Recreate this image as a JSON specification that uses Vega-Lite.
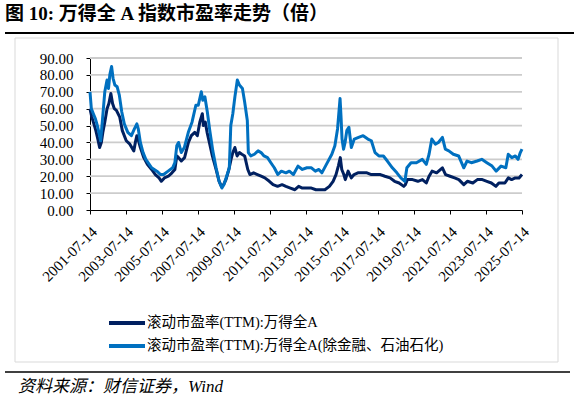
{
  "$schema": "https://vega.github.io/schema/vega-lite/v6.json",
  "width": 432,
  "height": 152,
  "autosize": {"type": "none"},
  "padding": {"left": 90, "top": 58, "right": 54, "bottom": 195},
  "background": "white",
  "title": {
    "text": "图 10: 万得全 A 指数市盈率走势（倍）",
    "anchor": "start",
    "frame": "group",
    "dx": -85,
    "offset": 8,
    "font": "Liberation Serif, Noto Sans CJK SC",
    "fontSize": 19,
    "fontWeight": "bold",
    "color": "#000000"
  },
  "datasets": {
    "grid": [
      {"date": "2001-07-14", "date2": "2025-07-14", "pe": 10},
      {"date": "2001-07-14", "date2": "2025-07-14", "pe": 20},
      {"date": "2001-07-14", "date2": "2025-07-14", "pe": 30},
      {"date": "2001-07-14", "date2": "2025-07-14", "pe": 40},
      {"date": "2001-07-14", "date2": "2025-07-14", "pe": 50},
      {"date": "2001-07-14", "date2": "2025-07-14", "pe": 60},
      {"date": "2001-07-14", "date2": "2025-07-14", "pe": 70},
      {"date": "2001-07-14", "date2": "2025-07-14", "pe": 80},
      {"date": "2001-07-14", "date2": "2025-07-14", "pe": 90}
    ],
    "pe": [
      {"date": "2001-07-14", "s": "wind_a", "pe": 60},
      {"date": "2001-08-20", "s": "wind_a", "pe": 55},
      {"date": "2001-10-01", "s": "wind_a", "pe": 51},
      {"date": "2001-11-10", "s": "wind_a", "pe": 47},
      {"date": "2001-12-20", "s": "wind_a", "pe": 42},
      {"date": "2002-01-25", "s": "wind_a", "pe": 37},
      {"date": "2002-03-01", "s": "wind_a", "pe": 40},
      {"date": "2002-04-01", "s": "wind_a", "pe": 46},
      {"date": "2002-05-10", "s": "wind_a", "pe": 52},
      {"date": "2002-06-25", "s": "wind_a", "pe": 60},
      {"date": "2002-08-01", "s": "wind_a", "pe": 63},
      {"date": "2002-09-10", "s": "wind_a", "pe": 69},
      {"date": "2002-10-15", "s": "wind_a", "pe": 63},
      {"date": "2002-11-20", "s": "wind_a", "pe": 60},
      {"date": "2003-01-01", "s": "wind_a", "pe": 59},
      {"date": "2003-03-10", "s": "wind_a", "pe": 55},
      {"date": "2003-05-01", "s": "wind_a", "pe": 47},
      {"date": "2003-07-20", "s": "wind_a", "pe": 41},
      {"date": "2003-10-01", "s": "wind_a", "pe": 39},
      {"date": "2003-12-20", "s": "wind_a", "pe": 35},
      {"date": "2004-01-20", "s": "wind_a", "pe": 40},
      {"date": "2004-02-20", "s": "wind_a", "pe": 44},
      {"date": "2004-03-25", "s": "wind_a", "pe": 41},
      {"date": "2004-05-01", "s": "wind_a", "pe": 37},
      {"date": "2004-07-10", "s": "wind_a", "pe": 31},
      {"date": "2004-09-20", "s": "wind_a", "pe": 27},
      {"date": "2004-12-15", "s": "wind_a", "pe": 24},
      {"date": "2005-03-01", "s": "wind_a", "pe": 21},
      {"date": "2005-05-15", "s": "wind_a", "pe": 19},
      {"date": "2005-07-01", "s": "wind_a", "pe": 17},
      {"date": "2005-09-01", "s": "wind_a", "pe": 19},
      {"date": "2005-11-20", "s": "wind_a", "pe": 20},
      {"date": "2006-02-01", "s": "wind_a", "pe": 22},
      {"date": "2006-04-01", "s": "wind_a", "pe": 24},
      {"date": "2006-05-10", "s": "wind_a", "pe": 32},
      {"date": "2006-06-15", "s": "wind_a", "pe": 31},
      {"date": "2006-08-10", "s": "wind_a", "pe": 29},
      {"date": "2006-10-15", "s": "wind_a", "pe": 31},
      {"date": "2007-01-01", "s": "wind_a", "pe": 40},
      {"date": "2007-03-01", "s": "wind_a", "pe": 44},
      {"date": "2007-05-10", "s": "wind_a", "pe": 46},
      {"date": "2007-07-01", "s": "wind_a", "pe": 44},
      {"date": "2007-08-20", "s": "wind_a", "pe": 52},
      {"date": "2007-10-10", "s": "wind_a", "pe": 57},
      {"date": "2007-11-01", "s": "wind_a", "pe": 50},
      {"date": "2007-12-10", "s": "wind_a", "pe": 52},
      {"date": "2008-01-15", "s": "wind_a", "pe": 46},
      {"date": "2008-03-01", "s": "wind_a", "pe": 40},
      {"date": "2008-05-01", "s": "wind_a", "pe": 32},
      {"date": "2008-07-15", "s": "wind_a", "pe": 24},
      {"date": "2008-09-15", "s": "wind_a", "pe": 17},
      {"date": "2008-11-01", "s": "wind_a", "pe": 14},
      {"date": "2008-12-15", "s": "wind_a", "pe": 15},
      {"date": "2009-02-01", "s": "wind_a", "pe": 18},
      {"date": "2009-04-01", "s": "wind_a", "pe": 24},
      {"date": "2009-05-15", "s": "wind_a", "pe": 30},
      {"date": "2009-06-20", "s": "wind_a", "pe": 34},
      {"date": "2009-08-01", "s": "wind_a", "pe": 37},
      {"date": "2009-09-15", "s": "wind_a", "pe": 32},
      {"date": "2009-11-01", "s": "wind_a", "pe": 34},
      {"date": "2009-12-20", "s": "wind_a", "pe": 33},
      {"date": "2010-02-15", "s": "wind_a", "pe": 32},
      {"date": "2010-04-20", "s": "wind_a", "pe": 24},
      {"date": "2010-06-01", "s": "wind_a", "pe": 21},
      {"date": "2010-08-15", "s": "wind_a", "pe": 22},
      {"date": "2010-11-01", "s": "wind_a", "pe": 21},
      {"date": "2011-01-15", "s": "wind_a", "pe": 20},
      {"date": "2011-04-01", "s": "wind_a", "pe": 19},
      {"date": "2011-07-01", "s": "wind_a", "pe": 17},
      {"date": "2011-09-15", "s": "wind_a", "pe": 15},
      {"date": "2011-12-15", "s": "wind_a", "pe": 14},
      {"date": "2012-03-15", "s": "wind_a", "pe": 15},
      {"date": "2012-06-01", "s": "wind_a", "pe": 14},
      {"date": "2012-09-01", "s": "wind_a", "pe": 13},
      {"date": "2012-12-01", "s": "wind_a", "pe": 12},
      {"date": "2013-02-15", "s": "wind_a", "pe": 14},
      {"date": "2013-05-01", "s": "wind_a", "pe": 13},
      {"date": "2013-08-01", "s": "wind_a", "pe": 13},
      {"date": "2013-11-01", "s": "wind_a", "pe": 13},
      {"date": "2014-02-01", "s": "wind_a", "pe": 12},
      {"date": "2014-05-01", "s": "wind_a", "pe": 12},
      {"date": "2014-08-01", "s": "wind_a", "pe": 12},
      {"date": "2014-11-01", "s": "wind_a", "pe": 14},
      {"date": "2015-01-15", "s": "wind_a", "pe": 17},
      {"date": "2015-03-15", "s": "wind_a", "pe": 21},
      {"date": "2015-05-01", "s": "wind_a", "pe": 26},
      {"date": "2015-06-10", "s": "wind_a", "pe": 31},
      {"date": "2015-07-10", "s": "wind_a", "pe": 24},
      {"date": "2015-08-20", "s": "wind_a", "pe": 21},
      {"date": "2015-09-20", "s": "wind_a", "pe": 18},
      {"date": "2015-11-15", "s": "wind_a", "pe": 23},
      {"date": "2016-01-20", "s": "wind_a", "pe": 19},
      {"date": "2016-03-15", "s": "wind_a", "pe": 21},
      {"date": "2016-06-01", "s": "wind_a", "pe": 22},
      {"date": "2016-09-01", "s": "wind_a", "pe": 22},
      {"date": "2016-12-01", "s": "wind_a", "pe": 22},
      {"date": "2017-03-01", "s": "wind_a", "pe": 21},
      {"date": "2017-06-01", "s": "wind_a", "pe": 21},
      {"date": "2017-09-01", "s": "wind_a", "pe": 21},
      {"date": "2017-12-01", "s": "wind_a", "pe": 20},
      {"date": "2018-03-15", "s": "wind_a", "pe": 19},
      {"date": "2018-06-15", "s": "wind_a", "pe": 17},
      {"date": "2018-09-15", "s": "wind_a", "pe": 16},
      {"date": "2018-12-20", "s": "wind_a", "pe": 14},
      {"date": "2019-01-20", "s": "wind_a", "pe": 15},
      {"date": "2019-03-01", "s": "wind_a", "pe": 18},
      {"date": "2019-06-15", "s": "wind_a", "pe": 18},
      {"date": "2019-10-01", "s": "wind_a", "pe": 17},
      {"date": "2020-01-01", "s": "wind_a", "pe": 18},
      {"date": "2020-03-20", "s": "wind_a", "pe": 16},
      {"date": "2020-05-15", "s": "wind_a", "pe": 20},
      {"date": "2020-07-15", "s": "wind_a", "pe": 23},
      {"date": "2020-10-15", "s": "wind_a", "pe": 22},
      {"date": "2021-02-10", "s": "wind_a", "pe": 25},
      {"date": "2021-04-15", "s": "wind_a", "pe": 21},
      {"date": "2021-07-15", "s": "wind_a", "pe": 20},
      {"date": "2021-10-15", "s": "wind_a", "pe": 19},
      {"date": "2022-01-10", "s": "wind_a", "pe": 18},
      {"date": "2022-04-20", "s": "wind_a", "pe": 15},
      {"date": "2022-07-01", "s": "wind_a", "pe": 17},
      {"date": "2022-10-20", "s": "wind_a", "pe": 16},
      {"date": "2023-01-20", "s": "wind_a", "pe": 18},
      {"date": "2023-05-01", "s": "wind_a", "pe": 18},
      {"date": "2023-08-01", "s": "wind_a", "pe": 17},
      {"date": "2023-11-01", "s": "wind_a", "pe": 16},
      {"date": "2024-02-01", "s": "wind_a", "pe": 14},
      {"date": "2024-04-01", "s": "wind_a", "pe": 16},
      {"date": "2024-08-01", "s": "wind_a", "pe": 16},
      {"date": "2024-10-10", "s": "wind_a", "pe": 19},
      {"date": "2024-12-15", "s": "wind_a", "pe": 18},
      {"date": "2025-03-01", "s": "wind_a", "pe": 19},
      {"date": "2025-05-15", "s": "wind_a", "pe": 19},
      {"date": "2025-07-14", "s": "wind_a", "pe": 21},
      {"date": "2001-07-14", "s": "wind_a_ex", "pe": 70},
      {"date": "2001-08-10", "s": "wind_a_ex", "pe": 60},
      {"date": "2001-09-20", "s": "wind_a_ex", "pe": 57},
      {"date": "2001-11-01", "s": "wind_a_ex", "pe": 54},
      {"date": "2001-12-10", "s": "wind_a_ex", "pe": 50},
      {"date": "2002-01-10", "s": "wind_a_ex", "pe": 46},
      {"date": "2002-02-15", "s": "wind_a_ex", "pe": 41},
      {"date": "2002-03-20", "s": "wind_a_ex", "pe": 52},
      {"date": "2002-05-10", "s": "wind_a_ex", "pe": 70},
      {"date": "2002-06-25", "s": "wind_a_ex", "pe": 77},
      {"date": "2002-07-25", "s": "wind_a_ex", "pe": 72},
      {"date": "2002-08-20", "s": "wind_a_ex", "pe": 80},
      {"date": "2002-09-25", "s": "wind_a_ex", "pe": 85},
      {"date": "2002-10-25", "s": "wind_a_ex", "pe": 78},
      {"date": "2002-12-01", "s": "wind_a_ex", "pe": 74},
      {"date": "2003-01-15", "s": "wind_a_ex", "pe": 73},
      {"date": "2003-03-01", "s": "wind_a_ex", "pe": 68},
      {"date": "2003-04-20", "s": "wind_a_ex", "pe": 58},
      {"date": "2003-06-10", "s": "wind_a_ex", "pe": 51},
      {"date": "2003-08-20", "s": "wind_a_ex", "pe": 46},
      {"date": "2003-11-01", "s": "wind_a_ex", "pe": 44},
      {"date": "2004-01-01", "s": "wind_a_ex", "pe": 48},
      {"date": "2004-02-20", "s": "wind_a_ex", "pe": 51},
      {"date": "2004-03-20", "s": "wind_a_ex", "pe": 48},
      {"date": "2004-05-01", "s": "wind_a_ex", "pe": 40},
      {"date": "2004-06-25", "s": "wind_a_ex", "pe": 34},
      {"date": "2004-08-20", "s": "wind_a_ex", "pe": 30},
      {"date": "2004-12-15", "s": "wind_a_ex", "pe": 25},
      {"date": "2005-04-01", "s": "wind_a_ex", "pe": 23},
      {"date": "2005-06-15", "s": "wind_a_ex", "pe": 21},
      {"date": "2005-08-15", "s": "wind_a_ex", "pe": 21},
      {"date": "2005-11-15", "s": "wind_a_ex", "pe": 23},
      {"date": "2006-02-15", "s": "wind_a_ex", "pe": 25},
      {"date": "2006-04-01", "s": "wind_a_ex", "pe": 28},
      {"date": "2006-05-10", "s": "wind_a_ex", "pe": 38},
      {"date": "2006-06-15", "s": "wind_a_ex", "pe": 40},
      {"date": "2006-08-10", "s": "wind_a_ex", "pe": 34},
      {"date": "2006-10-10", "s": "wind_a_ex", "pe": 37},
      {"date": "2006-12-30", "s": "wind_a_ex", "pe": 46},
      {"date": "2007-03-15", "s": "wind_a_ex", "pe": 52},
      {"date": "2007-06-01", "s": "wind_a_ex", "pe": 62},
      {"date": "2007-07-20", "s": "wind_a_ex", "pe": 62},
      {"date": "2007-09-20", "s": "wind_a_ex", "pe": 70},
      {"date": "2007-10-20", "s": "wind_a_ex", "pe": 65},
      {"date": "2007-12-01", "s": "wind_a_ex", "pe": 67},
      {"date": "2008-01-20", "s": "wind_a_ex", "pe": 58},
      {"date": "2008-03-10", "s": "wind_a_ex", "pe": 47},
      {"date": "2008-05-10", "s": "wind_a_ex", "pe": 35},
      {"date": "2008-07-15", "s": "wind_a_ex", "pe": 25},
      {"date": "2008-09-15", "s": "wind_a_ex", "pe": 17},
      {"date": "2008-11-10", "s": "wind_a_ex", "pe": 13},
      {"date": "2008-12-20", "s": "wind_a_ex", "pe": 15},
      {"date": "2009-02-15", "s": "wind_a_ex", "pe": 20},
      {"date": "2009-04-10", "s": "wind_a_ex", "pe": 25},
      {"date": "2009-05-10", "s": "wind_a_ex", "pe": 50},
      {"date": "2009-06-20", "s": "wind_a_ex", "pe": 57},
      {"date": "2009-08-01", "s": "wind_a_ex", "pe": 67},
      {"date": "2009-09-20", "s": "wind_a_ex", "pe": 77},
      {"date": "2009-11-01", "s": "wind_a_ex", "pe": 74},
      {"date": "2010-01-01", "s": "wind_a_ex", "pe": 72},
      {"date": "2010-02-15", "s": "wind_a_ex", "pe": 64},
      {"date": "2010-04-10", "s": "wind_a_ex", "pe": 53},
      {"date": "2010-05-01", "s": "wind_a_ex", "pe": 34},
      {"date": "2010-06-20", "s": "wind_a_ex", "pe": 32},
      {"date": "2010-09-01", "s": "wind_a_ex", "pe": 33},
      {"date": "2010-11-15", "s": "wind_a_ex", "pe": 35},
      {"date": "2011-01-15", "s": "wind_a_ex", "pe": 34},
      {"date": "2011-03-15", "s": "wind_a_ex", "pe": 32},
      {"date": "2011-05-25", "s": "wind_a_ex", "pe": 31},
      {"date": "2011-08-01", "s": "wind_a_ex", "pe": 28},
      {"date": "2011-10-10", "s": "wind_a_ex", "pe": 25},
      {"date": "2011-12-20", "s": "wind_a_ex", "pe": 21},
      {"date": "2012-03-01", "s": "wind_a_ex", "pe": 23},
      {"date": "2012-06-01", "s": "wind_a_ex", "pe": 22},
      {"date": "2012-08-10", "s": "wind_a_ex", "pe": 23},
      {"date": "2012-11-01", "s": "wind_a_ex", "pe": 21},
      {"date": "2013-02-01", "s": "wind_a_ex", "pe": 26},
      {"date": "2013-05-01", "s": "wind_a_ex", "pe": 24},
      {"date": "2013-08-01", "s": "wind_a_ex", "pe": 25},
      {"date": "2013-11-01", "s": "wind_a_ex", "pe": 25},
      {"date": "2014-01-20", "s": "wind_a_ex", "pe": 23},
      {"date": "2014-04-01", "s": "wind_a_ex", "pe": 24},
      {"date": "2014-06-01", "s": "wind_a_ex", "pe": 22},
      {"date": "2014-09-01", "s": "wind_a_ex", "pe": 27},
      {"date": "2014-12-20", "s": "wind_a_ex", "pe": 33},
      {"date": "2015-02-20", "s": "wind_a_ex", "pe": 38},
      {"date": "2015-04-15", "s": "wind_a_ex", "pe": 48},
      {"date": "2015-06-05", "s": "wind_a_ex", "pe": 66},
      {"date": "2015-06-25", "s": "wind_a_ex", "pe": 55},
      {"date": "2015-07-15", "s": "wind_a_ex", "pe": 42},
      {"date": "2015-08-15", "s": "wind_a_ex", "pe": 36},
      {"date": "2015-09-15", "s": "wind_a_ex", "pe": 40},
      {"date": "2015-10-20", "s": "wind_a_ex", "pe": 47},
      {"date": "2015-12-01", "s": "wind_a_ex", "pe": 49},
      {"date": "2016-01-20", "s": "wind_a_ex", "pe": 37},
      {"date": "2016-03-20", "s": "wind_a_ex", "pe": 42},
      {"date": "2016-06-15", "s": "wind_a_ex", "pe": 43},
      {"date": "2016-09-15", "s": "wind_a_ex", "pe": 44},
      {"date": "2016-12-20", "s": "wind_a_ex", "pe": 42},
      {"date": "2017-03-01", "s": "wind_a_ex", "pe": 41},
      {"date": "2017-05-15", "s": "wind_a_ex", "pe": 34},
      {"date": "2017-08-01", "s": "wind_a_ex", "pe": 32},
      {"date": "2017-11-01", "s": "wind_a_ex", "pe": 32},
      {"date": "2018-01-20", "s": "wind_a_ex", "pe": 29},
      {"date": "2018-05-01", "s": "wind_a_ex", "pe": 25},
      {"date": "2018-08-01", "s": "wind_a_ex", "pe": 22},
      {"date": "2018-10-20", "s": "wind_a_ex", "pe": 19},
      {"date": "2019-01-10", "s": "wind_a_ex", "pe": 17},
      {"date": "2019-02-20", "s": "wind_a_ex", "pe": 25},
      {"date": "2019-05-15", "s": "wind_a_ex", "pe": 28},
      {"date": "2019-09-01", "s": "wind_a_ex", "pe": 28},
      {"date": "2019-12-30", "s": "wind_a_ex", "pe": 30},
      {"date": "2020-03-20", "s": "wind_a_ex", "pe": 27},
      {"date": "2020-05-15", "s": "wind_a_ex", "pe": 33},
      {"date": "2020-07-10", "s": "wind_a_ex", "pe": 42},
      {"date": "2020-09-20", "s": "wind_a_ex", "pe": 39},
      {"date": "2020-11-20", "s": "wind_a_ex", "pe": 40},
      {"date": "2021-02-10", "s": "wind_a_ex", "pe": 43},
      {"date": "2021-04-10", "s": "wind_a_ex", "pe": 36},
      {"date": "2021-06-20", "s": "wind_a_ex", "pe": 35},
      {"date": "2021-09-20", "s": "wind_a_ex", "pe": 33},
      {"date": "2022-01-05", "s": "wind_a_ex", "pe": 32},
      {"date": "2022-04-20", "s": "wind_a_ex", "pe": 25},
      {"date": "2022-06-25", "s": "wind_a_ex", "pe": 29},
      {"date": "2022-09-20", "s": "wind_a_ex", "pe": 28},
      {"date": "2023-01-15", "s": "wind_a_ex", "pe": 29},
      {"date": "2023-04-20", "s": "wind_a_ex", "pe": 30},
      {"date": "2023-08-01", "s": "wind_a_ex", "pe": 28},
      {"date": "2023-11-15", "s": "wind_a_ex", "pe": 26},
      {"date": "2024-02-05", "s": "wind_a_ex", "pe": 23},
      {"date": "2024-05-15", "s": "wind_a_ex", "pe": 26},
      {"date": "2024-08-20", "s": "wind_a_ex", "pe": 25},
      {"date": "2024-10-08", "s": "wind_a_ex", "pe": 33},
      {"date": "2024-12-20", "s": "wind_a_ex", "pe": 31},
      {"date": "2025-03-01", "s": "wind_a_ex", "pe": 32},
      {"date": "2025-04-25", "s": "wind_a_ex", "pe": 30},
      {"date": "2025-06-10", "s": "wind_a_ex", "pe": 34},
      {"date": "2025-07-14", "s": "wind_a_ex", "pe": 36}
    ]
  },
  "layer": [
    {
      "data": {"values": [{}]},
      "mark": {"type": "rect", "filled": false, "stroke": "#d9d9d9", "strokeWidth": 1},
      "encoding": {
        "x": {"value": -75},
        "x2": {"value": 468},
        "y": {"value": -20},
        "y2": {"value": 304}
      }
    },
    {
      "data": {"name": "pe"},
      "encoding": {
        "x": {
          "field": "date",
          "type": "temporal",
          "scale": {
            "type": "utc",
            "domain": [
              {"year": 2001, "month": 7, "date": 14, "utc": true},
              {"year": 2025, "month": 7, "date": 14, "utc": true}
            ]
          },
          "axis": {
            "title": null,
            "grid": false,
            "labelExpr": "utcFormat(datum.value, '%Y-%m-%d')",
            "labelAngle": -45,
            "labelAlign": "right",
            "labelBaseline": "middle",
            "labelPadding": 15,
            "labelOffset": 4,
            "labelFont": "Liberation Serif",
            "labelFontSize": 15,
            "labelColor": "#000000",
            "labelOverlap": false,
            "labelBound": false,
            "labelFlush": false,
            "tickSize": 4,
            "tickColor": "#000000",
            "domainColor": "#000000",
            "values": [
              {"year": 2001, "month": 7, "date": 14, "utc": true},
              {"year": 2003, "month": 7, "date": 14, "utc": true},
              {"year": 2005, "month": 7, "date": 14, "utc": true},
              {"year": 2007, "month": 7, "date": 14, "utc": true},
              {"year": 2009, "month": 7, "date": 14, "utc": true},
              {"year": 2011, "month": 7, "date": 14, "utc": true},
              {"year": 2013, "month": 7, "date": 14, "utc": true},
              {"year": 2015, "month": 7, "date": 14, "utc": true},
              {"year": 2017, "month": 7, "date": 14, "utc": true},
              {"year": 2019, "month": 7, "date": 14, "utc": true},
              {"year": 2021, "month": 7, "date": 14, "utc": true},
              {"year": 2023, "month": 7, "date": 14, "utc": true},
              {"year": 2025, "month": 7, "date": 14, "utc": true}
            ]
          }
        },
        "y": {
          "field": "pe",
          "type": "quantitative",
          "scale": {"domain": [0, 90], "nice": false},
          "axis": {
            "title": null,
            "grid": false,
            "values": [0, 10, 20, 30, 40, 50, 60, 70, 80, 90],
            "format": ".2f",
            "labelFont": "Liberation Serif",
            "labelFontSize": 15,
            "labelColor": "#000000",
            "labelOverlap": false,
            "labelPadding": 13,
            "tickSize": 4,
            "tickColor": "#000000",
            "domainColor": "#000000"
          }
        },
        "color": {
          "field": "s",
          "type": "nominal",
          "scale": {"domain": ["wind_a", "wind_a_ex"], "range": ["#002060", "#0070c0"]},
          "legend": {
            "orient": "none",
            "legendX": 26,
            "legendY": 254,
            "direction": "vertical",
            "title": null,
            "symbolType": "M-2,0H2",
            "symbolSize": 324,
            "symbolStrokeWidth": 4,
            "labelOffset": 9,
            "rowPadding": 4,
            "labelFont": "Liberation Serif, Noto Sans CJK SC",
            "labelFontSize": 14.5,
            "labelColor": "#000000",
            "labelLimit": 400,
            "labelExpr": "datum.value === 'wind_a' ? '滚动市盈率(TTM):万得全A' : '滚动市盈率(TTM):万得全A(除金融、石油石化)'"
          }
        }
      },
      "layer": [
        {
          "data": {"name": "grid"},
          "mark": {"type": "rule", "strokeWidth": 1.8},
          "encoding": {
            "x2": {"field": "date2"},
            "color": {"value": "#cccccc"}
          }
        },
        {
          "transform": [{"filter": "datum.s === 'wind_a'"}],
          "mark": {"type": "line", "strokeWidth": 3, "strokeJoin": "round"}
        },
        {
          "transform": [{"filter": "datum.s === 'wind_a_ex'"}],
          "mark": {"type": "line", "strokeWidth": 3, "strokeJoin": "round"}
        }
      ]
    },
    {
      "data": {"values": [{}]},
      "mark": {"type": "rule", "color": "#000000", "strokeWidth": 2},
      "encoding": {
        "x": {"value": -85},
        "x2": {"value": 484},
        "y": {"value": -25}
      }
    },
    {
      "data": {"values": [{}]},
      "mark": {"type": "rule", "color": "#000000", "strokeWidth": 1.5},
      "encoding": {
        "x": {"value": -85},
        "x2": {"value": 480},
        "y": {"value": 314}
      }
    },
    {
      "data": {"values": [{}]},
      "mark": {
        "type": "text",
        "text": "资料来源：财信证券，Wind",
        "align": "left",
        "baseline": "middle",
        "font": "Liberation Serif, Noto Sans CJK SC",
        "fontSize": 17,
        "fontStyle": "italic",
        "color": "#000000"
      },
      "encoding": {
        "x": {"value": -72},
        "y": {"value": 329}
      }
    }
  ],
  "config": {
    "view": {"stroke": null}
  }
}
